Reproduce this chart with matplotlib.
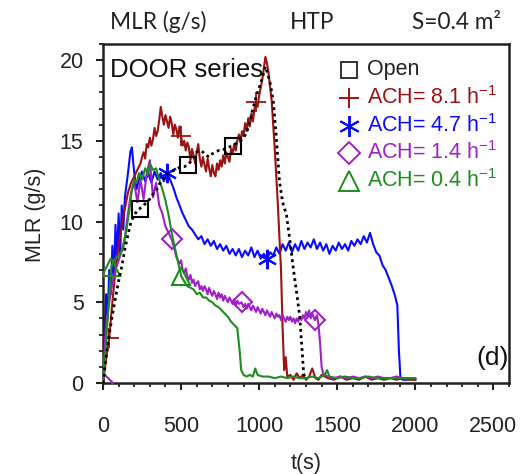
import matplotlib
matplotlib.use("Agg")
import matplotlib.pyplot as plt
from matplotlib.ticker import MultipleLocator

plt.rcParams['font.family'] = ['Liberation Sans', 'DejaVu Sans']
plt.rcParams['mathtext.fontset'] = 'custom'
plt.rcParams['mathtext.rm'] = 'Liberation Sans'

# ---------------- data (t [s], MLR [g/s]) ----------------
open_door = [(0,0),(20,1.6),(40,3.0),(60,4.2),(80,5.3),(100,6.3),(120,7.2),(140,8.3),(160,9.2),
             (180,10.0),(200,10.4),(220,10.7),(235,10.8),(260,11.0),(280,11.2),(300,11.4),(320,11.7),
             (340,11.9),(360,12.3),(380,12.6),(400,12.8),(420,13.0),(440,13.1),(460,13.2),(480,13.3),
             (500,13.4),(520,13.4),(543,13.5),(560,13.7),(580,14.0),(600,14.3),(620,14.4),(640,14.3),
             (660,14.1),(680,14.0),(700,14.2),(720,14.3),(740,14.4),(760,14.4),(780,14.5),(800,14.6),
             (832,14.7),(860,14.9),(880,15.0),(900,15.2),(920,15.5),(940,16.2),(960,17.0),(980,17.7),
             (1000,18.3),(1020,18.9),(1040,19.6),(1050,19.3),(1070,18.6),(1090,17.5),(1110,15.2),
             (1130,12.5),(1150,11.2),(1175,10.4),(1200,8.6),(1220,7.0),(1240,5.6),(1260,4.1),
             (1275,2.0),(1285,0.6),(1295,0.2)]
open_marks = [235, 543, 832]

ach81 = [(0,0),(20,1.5),(40,2.8),(60,5.0),(80,7.0),(100,8.5),(120,9.8),(140,10.8),(160,11.8),(180,12.4),
         (200,12.8),(220,13.2),(240,13.6),(250,14.0),(260,14.3),(270,13.9),(280,14.8),(290,14.6),
         (300,15.2),(310,14.7),(320,15.1),(330,15.8),(340,15.3),(350,15.6),(360,16.3),(370,17.1),
         (380,16.5),(390,16.0),(400,16.6),(410,16.2),(420,15.8),(430,16.5),(440,16.1),(450,15.4),
         (460,16.0),(470,15.7),(480,15.2),(490,15.9),(500,15.3),(510,14.7),(520,15.0),(530,14.4),
         (540,14.9),(550,14.6),(560,13.8),(570,14.5),(580,14.1),(590,13.6),(600,14.3),(610,14.8),
         (620,13.9),(630,13.4),(640,14.0),(650,13.5),(660,13.1),(670,13.9),(680,13.3),(690,12.8),
         (700,13.5),(710,13.0),(720,12.8),(730,13.6),(740,13.2),(750,13.8),(760,13.4),(770,14.1),
         (780,13.6),(790,14.3),(800,14.0),(810,13.7),(820,14.5),(830,14.2),(840,14.8),(850,14.4),
         (860,15.0),(870,15.4),(880,14.9),(890,15.6),(900,15.3),(910,16.1),(920,15.6),(930,16.4),
         (940,15.9),(950,16.7),(960,16.2),(970,17.0),(980,17.4),(990,17.1),(1000,17.8),(1010,18.3),
         (1020,18.8),(1030,19.5),(1040,20.2),(1050,19.8),(1060,19.2),(1080,17.5),(1100,14.5),
         (1120,11.0),(1140,7.0),(1150,3.5),(1160,0.8),(1170,1.6),(1180,0.4),
         (1200,0.5),(1220,0.2),(1240,0.6),(1260,0.3),(1280,0.5),(1300,0.2),(1320,0.4),(1340,0.9),
         (1360,0.3),(1380,0.2),(1400,0.5),(1440,0.3),(1480,0.2),(1520,0.4),(1560,0.2),(1600,0.3),
         (1640,0.2),(1680,0.4),(1720,0.2),(1760,0.3),(1800,0.2),(1840,0.3),(1880,0.2),(1920,0.3),
         (1960,0.2),(2000,0.2)]
ach81_marks = [40, 500, 980]

ach47 = [(0,0),(10,3.0),(20,5.5),(30,4.0),(40,7.0),(50,5.5),(60,8.5),(70,6.5),(80,9.8),(90,7.5),
         (100,10.5),(110,8.0),(120,11.0),(130,9.5),(140,11.5),(160,13.0),(175,14.3),(185,14.6),
         (195,13.5),(205,12.6),(215,12.0),(230,12.6),(250,13.1),(270,12.5),(290,13.0),(310,12.4),
         (330,13.1),(350,12.6),(370,13.0),(390,12.5),(410,13.0),(430,12.6),(450,12.1),(470,11.5),
         (490,11.0),(510,10.5),(530,10.1),(550,9.7),(570,9.5),(590,9.2),(610,8.9),(630,9.1),(650,8.6),
         (670,8.9),(690,8.5),(710,8.8),(730,8.3),(750,8.6),(770,8.2),(790,8.5),(810,8.0),(830,8.3),
         (850,7.9),(870,8.3),(890,7.8),(910,8.2),(930,7.9),(950,8.4),(970,7.8),(990,8.2),(1010,7.7),
         (1030,8.0),(1050,7.7),(1070,8.1),(1090,7.9),(1110,8.4),(1130,8.0),(1150,8.6),(1170,8.2),
         (1190,8.7),(1210,8.1),(1230,8.6),(1250,8.2),(1270,8.8),(1290,8.3),(1310,8.7),(1330,8.4),
         (1350,8.9),(1370,8.3),(1390,8.7),(1410,8.2),(1430,8.6),(1450,8.0),(1470,8.5),(1490,8.2),
         (1510,8.7),(1530,8.3),(1550,8.6),(1570,8.2),(1590,8.8),(1610,8.5),(1630,8.9),(1650,8.6),
         (1670,9.1),(1690,8.7),(1710,9.3),(1730,8.6),(1750,8.1),(1770,7.9),(1790,7.3),(1810,7.0),
         (1830,6.5),(1850,6.0),(1870,5.4),(1885,4.8),(1895,2.0),(1905,0.3),(1920,0.2),(1950,0.2),
         (1980,0.3),(2000,0.2)]
ach47_marks = [410, 1050]

ach14 = [(0,0),(10,2.0),(20,3.5),(40,5.0),(60,6.2),(80,7.0),(100,7.6),(120,8.2),(140,9.0),(160,10.5),
         (180,11.8),(200,12.4),(220,11.2),(240,12.6),(260,11.4),(280,13.0),(300,13.8),(320,11.5),
         (340,12.4),(360,11.0),(380,10.5),(400,9.7),(420,9.3),(440,8.9),(460,8.2),(470,7.8),(480,7.6),
         (490,7.4),(500,7.6),(510,7.0),(520,6.8),(530,7.1),(540,6.6),(550,6.4),(560,6.7),(570,6.2),
         (580,6.4),(590,6.0),(600,6.2),(610,6.3),(620,5.8),(630,6.0),(640,5.7),(650,6.0),(660,5.8),
         (670,5.5),(680,5.9),(690,5.6),(700,5.4),(710,5.7),(720,5.5),(730,5.2),(740,5.6),(750,5.3),
         (760,5.5),(770,5.1),(780,5.4),(790,5.2),(800,5.0),(810,5.3),(820,5.1),(830,4.9),(840,5.2),
         (850,4.8),(860,5.1),(870,4.9),(887,5.0),(900,4.7),(910,4.9),(920,4.6),(930,4.9),(940,4.7),
         (950,4.5),(960,4.8),(970,4.6),(980,4.4),(990,4.7),(1000,4.5),(1010,4.3),(1020,4.6),(1030,4.4),
         (1040,4.2),(1050,4.5),(1060,4.3),(1070,4.1),(1080,4.4),(1090,4.2),(1100,4.0),(1110,4.3),
         (1120,4.1),(1130,4.2),(1140,3.9),(1150,4.2),(1160,4.0),(1170,3.8),(1180,4.1),(1190,3.9),
         (1200,4.1),(1210,3.8),(1220,4.0),(1230,3.7),(1240,4.0),(1250,3.8),(1260,4.1),(1270,3.9),
         (1280,4.2),(1290,4.0),(1300,4.4),(1310,4.1),(1320,4.5),(1330,4.0),(1340,4.3),(1357,3.9),
         (1370,4.2),(1380,3.6),(1390,2.5),(1400,1.0),(1410,0.6),(1420,0.5),(1440,0.4),(1480,0.3),
         (1520,0.4),(1560,0.3),(1600,0.4),(1640,0.3),(1680,0.4),(1720,0.3),(1760,0.4),(1800,0.3),
         (1840,0.3),(1880,0.4),(1920,0.3),(1960,0.3),(2000,0.3)]
ach14_marks = [0, 440, 887, 1357]

ach04 = [(0,0),(20,2.5),(40,5.5),(54,7.2),(70,7.6),(90,7.8),(110,8.0),(130,8.4),(150,9.5),(170,10.8),
         (185,12.0),(200,12.6),(215,12.4),(230,13.0),(250,12.6),(270,13.3),(290,12.9),(300,13.6),
         (320,13.2),(340,13.3),(360,12.6),(380,12.0),(400,11.3),(420,10.4),(440,9.3),(460,8.4),
         (480,7.5),(502,6.6),(520,6.3),(540,6.0),(560,5.9),(580,5.8),(600,5.5),(620,5.6),(640,5.3),
         (660,5.3),(680,5.1),(700,5.0),(720,4.8),(740,4.7),(760,4.5),(780,4.3),(800,4.1),(820,3.8),
         (840,3.6),(860,3.4),(875,2.0),(885,0.8),(900,0.5),(920,0.4),(940,0.5),(960,0.4),(975,0.9),
         (990,0.5),(1020,0.4),(1060,0.4),(1100,0.3),(1140,0.4),(1180,0.3),(1220,0.4),(1260,0.3),
         (1300,0.3),(1340,0.4),(1380,0.3),(1420,0.5),(1435,0.8),(1450,0.4),(1500,0.3),(1550,0.4),
         (1600,0.3),(1650,0.3),(1700,0.4),(1750,0.3),(1800,0.3),(1850,0.3),(1900,0.3),(1950,0.3),
         (2000,0.3)]
ach04_marks = [54, 502]

x_ticks = [0, 500, 1000, 1500, 2000, 2500]
y_ticks = [0, 5, 10, 15, 20]

labels = ['Open', 'ACH= 8.1 h$^{\\mathregular{-1}}$', 'ACH= 4.7 h$^{\\mathregular{-1}}$',
          'ACH= 1.4 h$^{\\mathregular{-1}}$', 'ACH= 0.4 h$^{\\mathregular{-1}}$']

C_RED, C_BLUE, C_PURP, C_GREEN = '#9b1212', '#0a0aff', '#a020c8', '#1e8c1e'

# ---------------- figure ----------------
fig = plt.figure(figsize=(5.23, 4.74), dpi=100)
ax = fig.add_axes([103/523, 1-383/474, 406/523, 339/474])

def draw(series, marks, color, marker, ms, mew, zorder, **kw):
    t, y = zip(*series)
    idx = [i for i, tt in enumerate(t) if tt in marks]
    ax.plot(t, y, color=color, marker=marker, markevery=idx, ms=ms, mew=mew,
            mfc='none', mec=color, zorder=zorder, clip_on=True, **kw)

draw(ach47, ach47_marks, C_BLUE, (6, 2, 0), 14, 1.5, 2, lw=1.5)
draw(ach81, ach81_marks, C_RED, '+', 14, 1.3, 3, lw=1.5)
draw(ach14, ach14_marks, C_PURP, 'D', 10, 1.5, 4, lw=1.5)
draw(ach04, ach04_marks, C_GREEN, '^', 13, 1.5, 5, lw=1.5)
draw(open_door, open_marks, 'black', 's', 12, 1.5, 6, lw=2.0, linestyle=(0, (1, 1.3)))

ax.set_xlim(0, 2600)
ax.set_ylim(0, 21)
ax.set_xticks(x_ticks)
ax.set_yticks(y_ticks)
ax.xaxis.set_minor_locator(MultipleLocator(100))
ax.yaxis.set_minor_locator(MultipleLocator(1))
ax.tick_params(which='major', direction='out', length=5, width=1.5, labelsize=15.5, colors='#222222')
ax.tick_params(axis='x', which='major', pad=19)
ax.tick_params(axis='y', which='major', pad=9)
ax.tick_params(which='minor', direction='out', length=3, width=1.3, color='#222222')
for s in ax.spines.values():
    s.set_linewidth(1.8)
    s.set_color('#222222')

ax.set_xlabel('t(s)', fontsize=15.5, color='#222222')
ax.xaxis.label.set_va('center')
ax.xaxis.set_label_coords(0.5, (383-463)/339)
ax.set_ylabel('MLR (g/s)', fontsize=15.5, color='#222222')
ax.yaxis.label.set_va('center')
ax.yaxis.set_label_coords((36-103)/406, 0.496)

# legend (manual, coloured text)
leg_colors = ['black', C_RED, C_BLUE, C_PURP, C_GREEN]
leg_markers = ['s', '+', (6, 2, 0), 'D', '^']
leg_ms = [12, 15, 15, 11, 14]
leg_rows = [70, 98, 126, 153, 181]
for lab, col, mk, ms, yy in zip(labels, leg_colors, leg_markers, leg_ms, leg_rows):
    yf = (383-yy)/339
    ax.plot([(349-103)/406], [yf], transform=ax.transAxes, marker=mk, ms=ms, mfc='none',
            mec='#333333' if col == 'black' else col, mew=1.4, linestyle='none', clip_on=False, zorder=10)
    ax.text((367-103)/406, yf, lab, transform=ax.transAxes, color='#222222' if col == 'black' else col,
            fontsize=15.5, va='center', ha='left', zorder=10)

ax.text(7/406, (383-70)/339, 'DOOR series', transform=ax.transAxes, fontsize=18.5,
        va='center', ha='left', color='#111111', zorder=10)
ax.text(1.0, (383-358)/339, '(d)', transform=ax.transAxes, fontsize=19,
        va='center', ha='right', color='#111111', zorder=10)

# header texts
hdr = dict(fontsize=16.3, family=['Lato', 'DejaVu Sans'], color='#222222', va='baseline', ha='left')
fig.text(110/523, 1-29/474, 'MLR (g/s)', **hdr)
fig.text(290/523, 1-29/474, 'HTP', **hdr)
fig.text(412/523, 1-29/474, 'S=0.4 m²', **hdr)

fig.savefig('out.png', dpi=100)
